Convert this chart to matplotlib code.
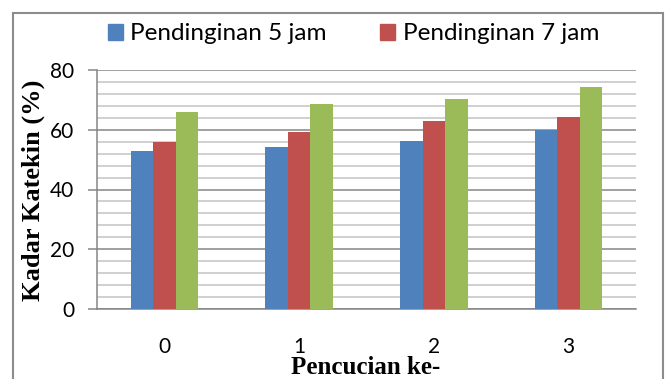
import matplotlib.pyplot as plt
import matplotlib.patches as mpatches
from matplotlib.ticker import MultipleLocator
import numpy as np

# data
pencucian = ["0", "1", "2", "3"]
jam_5 = [53.0, 54.3, 56.1, 59.9]
jam_7 = [56.0, 59.1, 63.0, 64.3]
seri_3 = [65.8, 68.6, 70.4, 74.4]
label_5 = "Pendinginan 5 jam"
label_7 = "Pendinginan 7 jam"

biru = "#4F81BD"
merah = "#C0504D"
hijau = "#9BBB59"

W, H = 667, 379
fig = plt.figure(figsize=(W / 100, H / 100), dpi=100)
ax = fig.add_axes([97 / W, 1 - 309 / H, (636 - 97) / W, (309 - 70) / H])

x = np.arange(len(pencucian))
lebar = 1 / 6
ax.bar(x - lebar, jam_5, lebar, color=biru, zorder=3)
ax.bar(x, jam_7, lebar, color=merah, zorder=3)
ax.bar(x + lebar, seri_3, lebar, color=hijau, zorder=3)

ax.set_xlim(-0.5, 3.5)
ax.set_ylim(0, 80)
ax.set_xticks(x)
ax.set_xticklabels(pencucian)
ax.yaxis.set_major_locator(MultipleLocator(20))
ax.yaxis.set_minor_locator(MultipleLocator(4))

ax.grid(axis="y", which="major", color="#868686", lw=1.1, zorder=1)
ax.grid(axis="y", which="minor", color="#C4C4C4", lw=1.1, zorder=0)
ax.set_axisbelow(True)

for s in ["top", "right"]:
    ax.spines[s].set_visible(False)
for s in ["left", "bottom"]:
    ax.spines[s].set_color("#868686")
    ax.spines[s].set_linewidth(1.1)

ax.tick_params(axis="x", length=0, pad=20, labelsize=15)
ax.tick_params(axis="y", which="major", length=6.5, width=1.1, color="#868686",
               pad=10, labelsize=15)
ax.tick_params(axis="y", which="minor", length=0)
for t in ax.get_xticklabels() + ax.get_yticklabels():
    t.set_fontfamily("Lato")

fig.text(33 / W, 1 - 190 / H, "Kadar Katekin (%)", rotation=90, ha="center", va="center",
         fontsize=19, fontweight="bold", family="Liberation Serif")
fig.text(366 / W, 1 - 374 / H, "Pencucian ke-", ha="center", va="baseline",
         fontsize=18, fontweight="bold", family="Liberation Serif")

handles = [mpatches.Patch(color=biru, label=label_5), mpatches.Patch(color=merah, label=label_7)]
fig.legend(handles=handles, loc="center left", bbox_to_anchor=(108 / W, 1 - 34 / H),
           ncol=2, frameon=False, borderpad=0, borderaxespad=0,
           handlelength=0.62, handleheight=0.62, handletextpad=0.3, columnspacing=2.2,
           prop={"family": "Lato", "size": 17.5})

# chart border
fig.patches.append(mpatches.Rectangle((13 / W, -0.05), (663 - 13) / W, 1.05 - 13 / H,
                                      transform=fig.transFigure, fill=False,
                                      edgecolor="#8C8C8C", lw=1.5))

fig.savefig("out.png", dpi=100)
